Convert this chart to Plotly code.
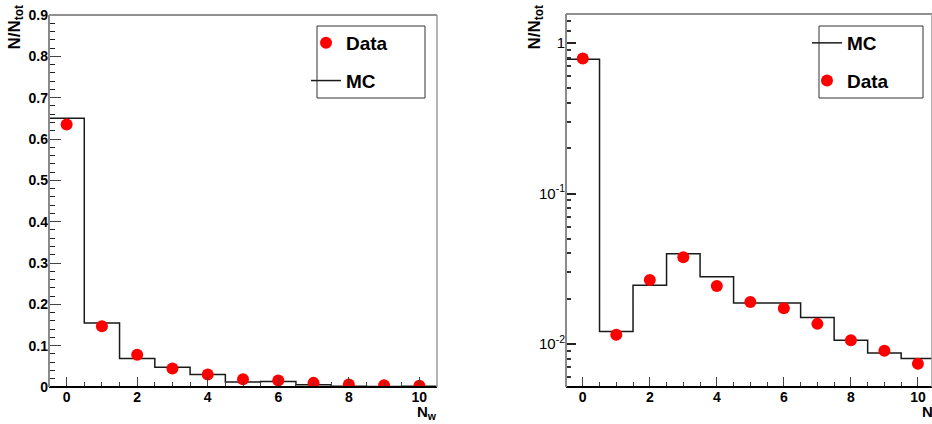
import plotly.graph_objects as go

# ---------------- data ----------------
n_vals = [0, 1, 2, 3, 4, 5, 6, 7, 8, 9, 10]

nw_data = [0.635, 0.147, 0.078, 0.045, 0.030, 0.019, 0.016, 0.010, 0.006, 0.004, 0.003]
nw_mc = [0.650, 0.155, 0.069, 0.048, 0.030, 0.012, 0.0135, 0.0055, 0.002, 0.0015, 0.002]

ns_data = [0.79, 0.0115, 0.0266, 0.0377, 0.0243, 0.0190, 0.0173, 0.0136, 0.0106, 0.0090, 0.0074]
ns_mc = [0.78, 0.0121, 0.0246, 0.0397, 0.0280, 0.0187, 0.0187, 0.0150, 0.0106, 0.0087, 0.0080]

left_yticks = [0, 0.1, 0.2, 0.3, 0.4, 0.5, 0.6, 0.7, 0.8, 0.9]
right_ytickvals = [0.01, 0.1, 1]
right_yticktext = ["10<sup>-2</sup>", "10<sup>-1</sup>", "1"]
xtick_vals = [0, 2, 4, 6, 8, 10]

# ---------------- helpers ----------------
FONT = "Liberation Sans Narrow, Arial Narrow, Liberation Sans, Arial, sans-serif"
W, H = 932, 424


def step_xy(centers, vals):
    edges = [c - 0.5 for c in centers] + [centers[-1] + 0.5]
    return edges, list(vals) + [vals[-1]]


fig = go.Figure()

# Left panel
ex, ey = step_xy(n_vals, nw_mc)
fig.add_trace(go.Scatter(x=ex, y=ey, mode="lines", line_shape="hv",
                         line=dict(color="#1a1a1a", width=1.5), name="<b>MC</b>",
                         legend="legend", legendrank=2, legendgroup="a2",
                         xaxis="x", yaxis="y"))
fig.add_trace(go.Scatter(x=n_vals, y=nw_data, mode="markers",
                         marker=dict(color="#ff0000", size=12, line=dict(width=0)),
                         name="<b>Data</b>", legend="legend", legendrank=1, legendgroup="a1",
                         xaxis="x", yaxis="y"))

# Right panel
ex2, ey2 = step_xy(n_vals, ns_mc)
fig.add_trace(go.Scatter(x=ex2, y=ey2, mode="lines", line_shape="hv",
                         line=dict(color="#1a1a1a", width=1.5), name="<b>MC</b>",
                         legend="legend2", legendrank=1, legendgroup="b1",
                         xaxis="x2", yaxis="y2"))
fig.add_trace(go.Scatter(x=n_vals, y=ns_data, mode="markers",
                         marker=dict(color="#ff0000", size=12, line=dict(width=0)),
                         name="<b>Data</b>", legend="legend2", legendrank=2, legendgroup="b2",
                         xaxis="x2", yaxis="y2"))

tickfont = dict(family=FONT, size=14, color="black", weight="bold")

common_x = dict(
    range=[-0.5, 10.5], tickmode="array", tickvals=xtick_vals,
    ticks="inside", ticklen=10, tickwidth=1, tickcolor="#444",
    minor=dict(ticks="inside", ticklen=5, dtick=0.5, tick0=0, tickcolor="#444", showgrid=False),
    showgrid=False, zeroline=False, showline=False, tickfont=tickfont, automargin=False,
)

fig.update_layout(
    width=W, height=H,
    margin=dict(l=0, r=0, t=0, b=0, autoexpand=False),
    paper_bgcolor="white", plot_bgcolor="white",
    xaxis=dict(domain=[49 / W, 437 / W], anchor="y", **common_x),
    yaxis=dict(domain=[(H - 387) / H, (H - 15) / H], anchor="x", range=[0, 0.9],
               tickmode="array", tickvals=left_yticks,
               ticktext=["0"] + [f"{v:.1f}" for v in left_yticks[1:]],
               ticks="inside", ticklen=12, tickwidth=1, tickcolor="#444",
               minor=dict(ticks="inside", ticklen=6, dtick=0.02, tick0=0, tickcolor="#222", showgrid=False),
               showgrid=False, zeroline=False, showline=False, tickfont=tickfont, automargin=False),
    xaxis2=dict(domain=[566 / W, 1.0], anchor="y2", **{**common_x, "range": [-0.5, 10.42]}),
    yaxis2=dict(domain=[(H - 387) / H, (H - 14) / H], anchor="x2", type="log",
                range=[-2.286, 0.193],
                tickmode="array", tickvals=right_ytickvals, ticktext=right_yticktext,
                ticks="inside", ticklen=10, tickwidth=1.5, tickcolor="#222",
                minor=dict(ticks="inside", ticklen=5, tickmode="array",
                           tickvals=[0.006, 0.007, 0.008, 0.009,
                                     0.02, 0.03, 0.04, 0.05, 0.06, 0.07, 0.08, 0.09,
                                     0.2, 0.3, 0.4, 0.5, 0.6, 0.7, 0.8, 0.9, 1.2, 1.4],
                           tickcolor="#333", showgrid=False),
                showgrid=False, zeroline=False, showline=False, automargin=False,
                tickfont=dict(family=FONT, size=15, color="black")),
    legend=dict(x=306 / W, y=1 - 24 / H, xanchor="left", yanchor="top",
                bgcolor="rgba(0,0,0,0)", borderwidth=0,
                font=dict(family=FONT, size=19, color="black"),
                tracegroupgap=10, itemwidth=30),
    legend2=dict(x=807 / W, y=1 - 24 / H, xanchor="left", yanchor="top",
                 bgcolor="rgba(0,0,0,0)", borderwidth=0,
                 font=dict(family=FONT, size=19, color="black"),
                 tracegroupgap=10, itemwidth=30),
    showlegend=True,
)

shapes = []
for xr, yr in (("x domain", "y domain"), ("x2 domain", "y2 domain")):
    shapes += [
        dict(type="line", xref=xr, yref=yr, x0=0, x1=1, y0=0, y1=0, line=dict(color="black", width=2)),
        dict(type="line", xref=xr, yref=yr, x0=0, x1=1, y0=1, y1=1, line=dict(color="#222", width=1)),
        dict(type="line", xref=xr, yref=yr, x0=0, x1=0, y0=0, y1=1, line=dict(color="#8a8a8a", width=2)),
        dict(type="line", xref=xr, yref=yr, x0=1, x1=1, y0=0, y1=1, line=dict(color="#9a9a9a", width=1.5)),
    ]
# legend frames
shapes += [
    dict(type="rect", xref="paper", yref="paper", x0=317 / W, x1=425 / W,
         y0=1 - 98 / H, y1=1 - 26 / H, line=dict(color="#333", width=1)),
    dict(type="rect", xref="paper", yref="paper", x0=819 / W, x1=923 / W,
         y0=1 - 98 / H, y1=1 - 26 / H, line=dict(color="#333", width=1)),
]
fig.update_layout(shapes=shapes)

title_font = dict(family=FONT, size=17, color="black", weight="bold")
axis_title_font = dict(family=FONT, size=15, color="black", weight="bold")
fig.add_annotation(text="N/N<sub>tot</sub>", xref="paper", yref="paper", x=16 / W, y=1 - 3 / H,
                   xanchor="center", yanchor="top", textangle=-90, showarrow=False, font=title_font)
fig.add_annotation(text="N/N<sub>tot</sub>", xref="paper", yref="paper", x=536 / W, y=1 - 3 / H,
                   xanchor="center", yanchor="top", textangle=-90, showarrow=False, font=title_font)
fig.add_annotation(text="N<sub>w</sub>", xref="paper", yref="paper", x=439 / W, y=0.5 / H,
                   xanchor="right", yanchor="bottom", showarrow=False, font=axis_title_font)
fig.add_annotation(text="N<sub>s</sub>", xref="paper", yref="paper", x=920 / W, y=0.5 / H,
                   xanchor="left", yanchor="bottom", showarrow=False, font=axis_title_font)

fig.write_html("out.html",
               config={"displayModeBar": False},
               post_script="document.body.style.margin='0';document.body.style.padding='0';"
                           "document.body.style.overflow='hidden';")
